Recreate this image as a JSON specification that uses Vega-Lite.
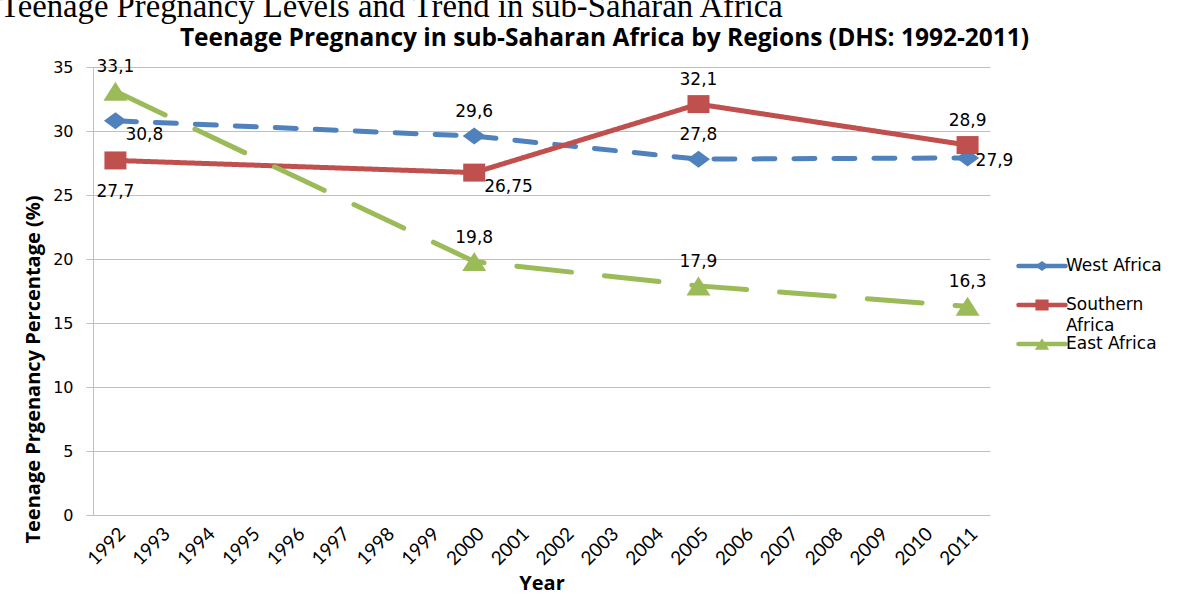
{
  "$schema": "https://vega.github.io/schema/vega-lite/v6.json",
  "width": 897,
  "height": 448,
  "autosize": {"type": "none"},
  "padding": {"left": 93, "top": 67, "right": 199, "bottom": 90},
  "background": "white",
  "title": {
    "text": "Teenage Pregnancy Levels and Trend in sub-Saharan Africa",
    "anchor": "start",
    "frame": "group",
    "dx": -93,
    "dy": 3,
    "font": "Liberation Serif",
    "fontSize": 32.7,
    "fontWeight": "normal",
    "color": "black",
    "offset": 4
  },
  "config": {
    "locale": {"number": {"decimal": ",", "thousands": ".", "grouping": [3], "currency": ["", ""]}},
    "view": {"stroke": null}
  },
  "data": {
    "values": [
      {"region": "West Africa", "year": 1992, "value": 30.8},
      {"region": "West Africa", "year": 2000, "value": 29.6},
      {"region": "West Africa", "year": 2005, "value": 27.8},
      {"region": "West Africa", "year": 2011, "value": 27.9},
      {"region": "Southern Africa", "year": 1992, "value": 27.7},
      {"region": "Southern Africa", "year": 2000, "value": 26.75},
      {"region": "Southern Africa", "year": 2005, "value": 32.1},
      {"region": "Southern Africa", "year": 2011, "value": 28.9},
      {"region": "East Africa", "year": 1992, "value": 33.1},
      {"region": "East Africa", "year": 2000, "value": 19.8},
      {"region": "East Africa", "year": 2005, "value": 17.9},
      {"region": "East Africa", "year": 2011, "value": 16.3}
    ]
  },
  "resolve": {"axis": {"x": "independent"}},
  "layer": [
    {
      "mark": {"type": "line", "strokeWidth": 5, "strokeCap": "round"},
      "encoding": {
        "x": {
          "field": "year", "type": "ordinal",
          "scale": {"type": "point", "padding": 0.5, "domain": [1992,1993,1994,1995,1996,1997,1998,1999,2000,2001,2002,2003,2004,2005,2006,2007,2008,2009,2010,2011]},
          "axis": {
            "orient": "bottom", "domain": false, "ticks": false, "grid": false,
            "labelAngle": -45, "labelFont": "Lato", "labelFontSize": 19, "labelColor": "black", "labelPadding": 9,
            "title": "Year", "titleFont": "Open Sans", "titleFontSize": 20, "titleFontWeight": "bold", "titleColor": "black",
            "titleY": 68, "titleBaseline": "middle"
          }
        },
        "y": {
          "field": "value", "type": "quantitative",
          "scale": {"domain": [0, 35], "nice": false, "zero": true},
          "axis": {
            "values": [0,5,10,15,20,25,30,35], "grid": true, "gridColor": "#bfbfbf", "gridWidth": 1,
            "domainColor": "#bfbfbf", "tickColor": "#bfbfbf", "tickSize": 7,
            "labelFont": "DejaVu Sans", "labelFontSize": 16, "labelColor": "black", "labelPadding": 13,
            "title": "Teenage Prgenancy Percentage (%)", "titleFont": "Open Sans", "titleFontSize": 20, "titleFontWeight": "bold", "titleColor": "black",
            "titleX": -60, "titleY": 302, "titleAngle": -90, "titleAlign": "center", "titleBaseline": "middle"
          }
        },
        "color": {
          "field": "region", "type": "nominal",
          "scale": {"domain": ["West Africa", "Southern Africa", "East Africa"], "range": ["#4F81BD", "#C0504D", "#9BBB59"]},
          "legend": {
            "orient": "none", "legendX": 923, "legendY": 189, "title": null, "padding": 0,
            "symbolType": "stroke", "symbolSize": 2209, "symbolStrokeWidth": 4.5, "symbolDash": [1, 0],
            "clipHeight": 20, "rowPadding": -5, "gridAlign": "all",
            "labelFont": "DejaVu Sans", "labelFontSize": 17, "labelColor": "transparent", "labelOffset": 3,
            "labelExpr": "datum.label == 'Southern Africa' ? ['Southern', 'Africa'] : datum.label",
            "encode": {
              "symbols": {"update": {"strokeCap": {"value": "round"}, "opacity": {"value": 1}}},
              "labels": {"update": {"lineHeight": {"value": 21}}}
            }
          }
        },
        "strokeDash": {
          "field": "region", "type": "nominal",
          "scale": {"domain": ["Southern Africa", "West Africa", "East Africa"], "range": [[1, 0], [21, 19], [55, 33]]},
          "legend": null
        }
      }
    },
    {
      "mark": {"type": "point", "filled": true, "opacity": 1, "size": 400, "strokeWidth": 0},
      "encoding": {
        "x": {
          "field": "year", "type": "ordinal",
          "axis": {
            "orient": "top", "domain": false, "ticks": false, "labels": false, "grid": false,
            "title": "Teenage Pregnancy in sub-Saharan Africa by Regions (DHS: 1992-2011)",
            "titleFont": "Open Sans", "titleFontSize": 24.5, "titleFontWeight": "bold", "titleColor": "black",
            "titleX": 511, "titleY": -29, "titleAlign": "center", "titleBaseline": "middle"
          }
        },
        "y": {"field": "value", "type": "quantitative"},
        "fill": {
          "field": "region", "type": "nominal",
          "scale": {"domain": ["East Africa", "Southern Africa", "West Africa"], "range": ["#9BBB59", "#C0504D", "#4F81BD"]},
          "legend": {
            "values": ["West Africa", "Southern Africa", "East Africa"],
            "orient": "none", "legendX": 940.5, "legendY": 189, "title": null, "padding": 0,
            "symbolSize": 144, "clipHeight": 20, "rowPadding": -5, "gridAlign": "all",
            "symbolStrokeWidth": 0, "symbolOpacity": 1,
            "labelFont": "DejaVu Sans", "labelFontSize": 17, "labelColor": "black", "labelOffset": 15.5,
            "labelExpr": "datum.label == 'Southern Africa' ? ['Southern', 'Africa'] : datum.label",
            "encode": {
              "labels": {"update": {"lineHeight": {"value": 21}}}
            }
          }
        },
        "shape": {
          "field": "region", "type": "nominal",
          "scale": {"domain": ["East Africa", "Southern Africa", "West Africa"], "range": ["M0,-0.95L1.2,0.95H-1.2Z", "M-1.1,-0.9H1.1V0.9H-1.1Z", "M-1.15,0L0,-0.85L1.15,0L0,0.85Z"]},
          "legend": {"values": ["West Africa", "Southern Africa", "East Africa"]}
        }
      }
    },
    {
      "transform": [{"filter": "!((datum.region == 'West Africa' && datum.year == 1992) || (datum.region == 'Southern Africa' && datum.year == 2000) || (datum.region == 'Southern Africa' && datum.year == 1992) || (datum.region == 'West Africa' && datum.year == 2011))"}],
      "mark": {"type": "text", "font": "DejaVu Sans", "fontSize": 17, "color": "black", "align": "center", "baseline": "middle", "dy": -24},
      "encoding": {
        "x": {"field": "year", "type": "ordinal", "axis": null},
        "y": {"field": "value", "type": "quantitative"},
        "text": {"field": "value", "type": "quantitative", "format": "~g"}
      }
    },
    {
      "transform": [{"filter": "(datum.region == 'West Africa' && datum.year == 1992) || (datum.region == 'Southern Africa' && datum.year == 2000)"}],
      "mark": {"type": "text", "font": "DejaVu Sans", "fontSize": 17, "color": "black", "align": "left", "baseline": "middle", "dx": 10, "dy": 14},
      "encoding": {
        "x": {"field": "year", "type": "ordinal", "axis": null},
        "y": {"field": "value", "type": "quantitative"},
        "text": {"field": "value", "type": "quantitative", "format": "~g"}
      }
    },
    {
      "transform": [{"filter": "datum.region == 'Southern Africa' && datum.year == 1992"}],
      "mark": {"type": "text", "font": "DejaVu Sans", "fontSize": 17, "color": "black", "align": "center", "baseline": "middle", "dy": 32},
      "encoding": {
        "x": {"field": "year", "type": "ordinal", "axis": null},
        "y": {"field": "value", "type": "quantitative"},
        "text": {"field": "value", "type": "quantitative", "format": "~g"}
      }
    },
    {
      "transform": [{"filter": "datum.region == 'West Africa' && datum.year == 2011"}],
      "mark": {"type": "text", "font": "DejaVu Sans", "fontSize": 17, "color": "black", "align": "left", "baseline": "middle", "dx": 8, "dy": 3},
      "encoding": {
        "x": {"field": "year", "type": "ordinal", "axis": null},
        "y": {"field": "value", "type": "quantitative"},
        "text": {"field": "value", "type": "quantitative", "format": "~g"}
      }
    }
  ]
}
